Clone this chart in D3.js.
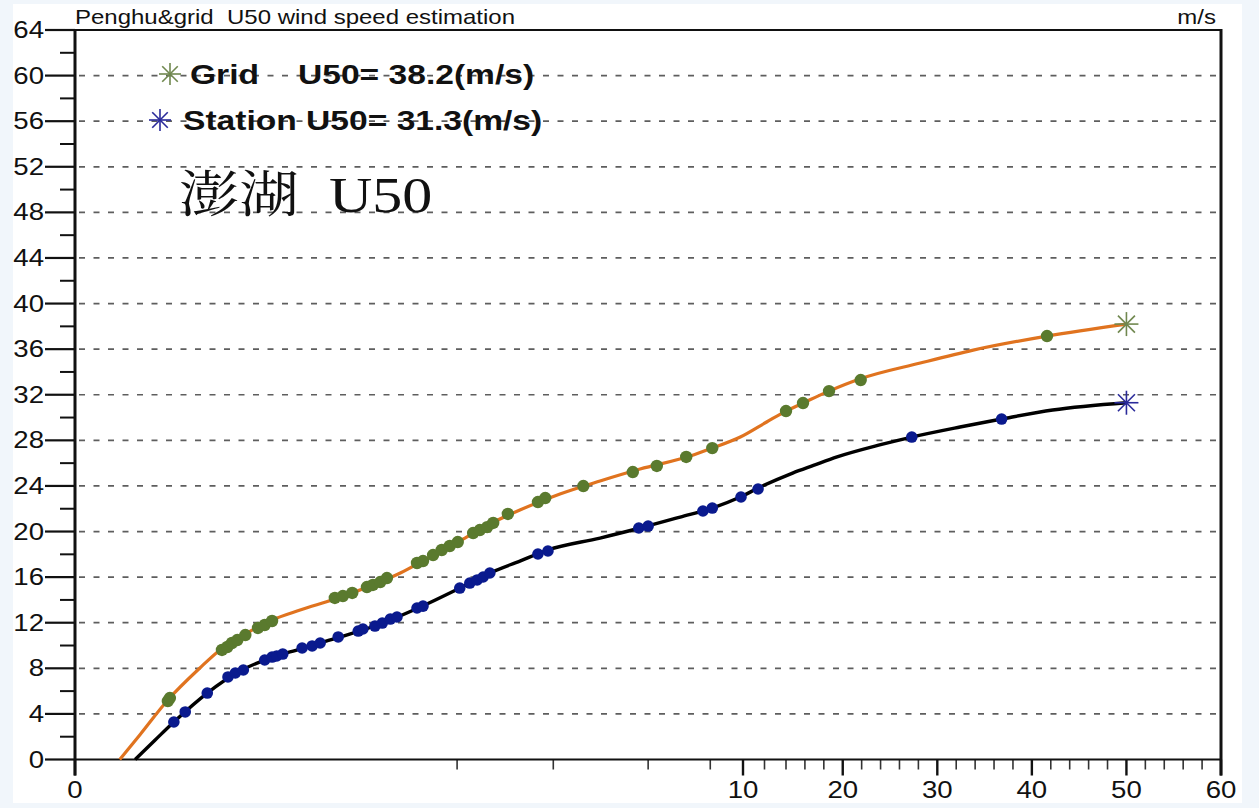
<!DOCTYPE html>
<html lang="en">
<head>
<meta charset="UTF-8">
<title>Penghu U50</title>
<script src="https://d3js.org/d3.v7.min.js"></script>
<style>
  html, body { margin: 0; padding: 0; background: #f1f6fb; }
  svg { display: block; }
  .lbl { font-family: 'Liberation Sans', Arial, sans-serif; fill: #111; white-space: pre; }
</style>
</head>
<body>
<script>
// ---- data ----
// x is the return-period axis, y is wind speed in m/s
const gridX = [1.39, 1.42, 2.20, 2.28, 2.35, 2.43, 2.55, 2.74, 2.84, 2.95, 3.89, 4.01, 4.15, 4.37, 4.46, 4.57,
  4.67, 5.12, 5.21, 5.36, 5.49, 5.61, 5.73, 5.96, 6.06, 6.17, 6.26, 6.48, 6.93, 7.04, 7.61, 8.35, 8.71, 9.15,
  9.54, 14.0, 15.8, 18.55, 21.9, 41.6];
const gridY = [5.13, 5.39, 9.61, 9.87, 10.22, 10.48, 10.92, 11.54, 11.80, 12.15, 14.17, 14.34, 14.61, 15.13,
  15.31, 15.57, 15.92, 17.24, 17.41, 17.94, 18.38, 18.73, 19.08, 19.87, 20.13, 20.39, 20.75, 21.54, 22.59,
  22.94, 23.99, 25.22, 25.75, 26.54, 27.32, 30.57, 31.27, 32.32, 33.29, 37.15];

const stationX = [1.48, 1.65, 1.98, 2.29, 2.40, 2.52, 2.84, 2.95, 3.02, 3.11, 3.40, 3.55, 3.67, 3.94, 4.24,
  4.31, 4.49, 4.60, 4.72, 4.82, 5.12, 5.21, 5.76, 5.91, 6.02, 6.11, 6.21, 6.93, 7.08, 8.44, 8.58, 9.40, 9.54,
  9.97, 11.4, 27.3, 36.8];
const stationY = [3.29, 4.17, 5.83, 7.24, 7.59, 7.85, 8.73, 8.99, 9.08, 9.25, 9.78, 9.96, 10.22, 10.75, 11.27,
  11.45, 11.71, 11.97, 12.32, 12.50, 13.29, 13.46, 15.04, 15.48, 15.75, 16.01, 16.36, 18.03, 18.29, 20.31,
  20.48, 21.80, 22.06, 23.03, 23.73, 28.29, 29.87];

// fitted curves
const gridFitX = [0.67, 0.97, 1.39, 1.87, 2.17, 2.55, 2.95, 3.37, 3.89, 4.42, 4.87, 5.31, 5.76, 6.21, 6.66,
  7.26, 7.86, 8.46, 9.21, 9.54, 9.96, 12.2, 14.0, 15.8, 18.55, 21.8, 28.2, 33.8, 41.6, 50];
const gridFitY = [0, 2.15, 5.22, 8.03, 9.61, 11.01, 12.24, 13.11, 14.08, 15.22, 16.36, 17.76, 19.17, 20.66,
  21.89, 23.29, 24.43, 25.48, 26.62, 27.32, 28.29, 29.61, 30.57, 31.27, 32.32, 33.38, 34.78, 35.92, 37.15, 38.2];

const stationFitX = [0.90, 1.20, 1.48, 1.98, 2.47, 2.92, 3.37, 3.97, 4.57, 5.17, 5.76, 6.21, 6.66, 7.08,
  7.86, 8.46, 9.06, 9.54, 9.96, 11.6, 14.7, 16.9, 19.4, 23.9, 27.3, 32.4, 36.8, 42.2, 50];
const stationFitY = [0, 1.71, 3.29, 5.83, 7.76, 8.90, 9.69, 10.75, 11.89, 13.38, 15.04, 16.36, 17.41, 18.38,
  19.43, 20.31, 21.27, 22.06, 23.03, 23.90, 25.13, 25.80, 26.55, 27.60, 28.29, 29.17, 29.87, 30.66, 31.3];

const returnPeriod = 50;
const gridU50 = 38.2;
const stationU50 = 31.3;

const xMajorTicks = [0, 10, 20, 30, 40, 50, 60];
const xMinorTicks = [5.72, 7.16, 8.58, 9.51].concat(d3.range(12, 60, 2).filter(v => v % 10 !== 0));
const yMajorTicks = d3.range(0, 65, 4);
const yMinorTicks = d3.range(2, 64, 4);
const yGridTicks = d3.range(4, 64, 4);

// ---- layout ----
var width = 1259, height = 808;
var SX = 1.2; // the source picture is stretched sideways

var svg = d3.select('body').append('svg')
  .attr('width', width)
  .attr('height', height);

svg.append('rect')
  .attr('x', 13).attr('y', 4)
  .attr('width', 1229).attr('height', 799)
  .attr('fill', '#fff');

var x = d3.scaleLinear().domain([0, 10, 14, 60]).range([75, 743, 786, 1221]);
var y = d3.scaleLinear().domain([0, 64]).range([759.5, 30]);

function stext(g, px, py, str, size, anchor, weight) {
  return g.append('text')
    .attr('class', 'lbl')
    .attr('transform', 'translate(' + px + ',' + py + ') scale(' + SX + ',1)')
    .attr('text-anchor', anchor || 'start')
    .attr('font-size', size)
    .attr('font-weight', weight || 'normal')
    .text(str);
}

// dashed grid
svg.append('g')
  .selectAll('line')
  .data(yGridTicks)
  .join('line')
  .attr('x1', x(0) + 4).attr('x2', x(60) - 2)
  .attr('y1', d => y(d)).attr('y2', d => y(d))
  .attr('stroke', '#5e5e5e')
  .attr('stroke-width', 1.7)
  .attr('stroke-dasharray', '6,8.5');

// y ticks
var axes = svg.append('g');
axes.selectAll('.ymaj')
  .data(yMajorTicks)
  .join('line')
  .attr('x1', 45).attr('x2', x(0))
  .attr('y1', d => y(d)).attr('y2', d => y(d))
  .attr('stroke', '#111').attr('stroke-width', 2.2);
axes.selectAll('.ymin')
  .data(yMinorTicks)
  .join('line')
  .attr('x1', 60).attr('x2', x(0))
  .attr('y1', d => y(d)).attr('y2', d => y(d))
  .attr('stroke', '#111').attr('stroke-width', 2);
yMajorTicks.forEach(function (v) {
  stext(axes, 44, y(v) + 8, v, 23, 'end');
});

// x ticks
axes.selectAll('.xmaj')
  .data(xMajorTicks)
  .join('line')
  .attr('x1', d => x(d)).attr('x2', d => x(d))
  .attr('y1', y(0)).attr('y2', y(0) + 16)
  .attr('stroke', '#111').attr('stroke-width', 2.4);
axes.selectAll('.xmin')
  .data(xMinorTicks)
  .join('line')
  .attr('x1', d => x(d)).attr('x2', d => x(d))
  .attr('y1', y(0)).attr('y2', y(0) + 10)
  .attr('stroke', '#333').attr('stroke-width', 1.6);
xMajorTicks.forEach(function (v) {
  stext(axes, x(v), 798, v, 23, 'middle');
});

// frame
axes.append('line').attr('x1', 45).attr('x2', x(60)).attr('y1', y(64)).attr('y2', y(64))
  .attr('stroke', '#111').attr('stroke-width', 2.2);
axes.append('line').attr('x1', x(0)).attr('x2', x(60)).attr('y1', y(0)).attr('y2', y(0))
  .attr('stroke', '#111').attr('stroke-width', 2.2);
axes.append('line').attr('x1', x(0)).attr('x2', x(0)).attr('y1', y(64)).attr('y2', y(0) + 16)
  .attr('stroke', '#111').attr('stroke-width', 3);
axes.append('line').attr('x1', x(60)).attr('x2', x(60)).attr('y1', y(64) - 1).attr('y2', y(0) + 16)
  .attr('stroke', '#111').attr('stroke-width', 3);

// titles
stext(svg, 75, 24, 'Penghu&grid  U50 wind speed estimation', 20);
stext(svg, 1216, 24, 'm/s', 20, 'end');

// fitted lines
var line = d3.line().x(d => x(d[0])).y(d => y(d[1])).curve(d3.curveMonotoneX);
svg.append('path')
  .datum(d3.zip(gridFitX, gridFitY))
  .attr('d', line)
  .attr('fill', 'none').attr('stroke', '#e0731f').attr('stroke-width', 3.2);
svg.append('path')
  .datum(d3.zip(stationFitX, stationFitY))
  .attr('d', line)
  .attr('fill', 'none').attr('stroke', '#000').attr('stroke-width', 3.4);

// sample points
svg.append('g')
  .selectAll('circle')
  .data(d3.zip(gridX, gridY))
  .join('circle')
  .attr('cx', d => x(d[0])).attr('cy', d => y(d[1]))
  .attr('r', 6.2)
  .attr('fill', '#5a7a2e');
svg.append('g')
  .selectAll('circle')
  .data(d3.zip(stationX, stationY))
  .join('circle')
  .attr('cx', d => x(d[0])).attr('cy', d => y(d[1]))
  .attr('r', 5.8)
  .attr('fill', '#0a1a8e');

// asterisk markers
function star(g, cx, cy, r, color) {
  var s = g.append('g').attr('transform', 'translate(' + cx + ',' + cy + ')');
  [0, 45, 90, 135].forEach(function (a) {
    var rad = a * Math.PI / 180;
    s.append('line')
      .attr('x1', -r * Math.cos(rad)).attr('y1', -r * Math.sin(rad))
      .attr('x2', r * Math.cos(rad)).attr('y2', r * Math.sin(rad))
      .attr('stroke', color).attr('stroke-width', 1.6);
  });
}
star(svg, x(returnPeriod), y(gridU50), 12, '#70884f');
star(svg, x(returnPeriod), y(stationU50), 12, '#2a2a9a');

// legend
star(svg, 170, 74, 11, '#70884f');
star(svg, 160, 120, 11, '#2a2a9a');
stext(svg, 190, 84, 'Grid', 28, 'start', 'bold');
stext(svg, 298, 84, 'U50= ' + gridU50.toFixed(1) + '(m/s)', 28, 'start', 'bold');
stext(svg, 183, 130, 'Station U50= ' + stationU50.toFixed(1) + '(m/s)', 28, 'start', 'bold');

// station name
svg.append('text')
  .attr('transform', 'translate(179,212) scale(' + SX + ',1)')
  .attr('font-family', "'Liberation Serif', 'Noto Serif CJK TC', 'Noto Sans CJK TC', serif")
  .attr('font-size', 50)
  .attr('fill', '#111')
  .style('white-space', 'pre')
  .text('澎湖  U50');
</script>
</body>
</html>
